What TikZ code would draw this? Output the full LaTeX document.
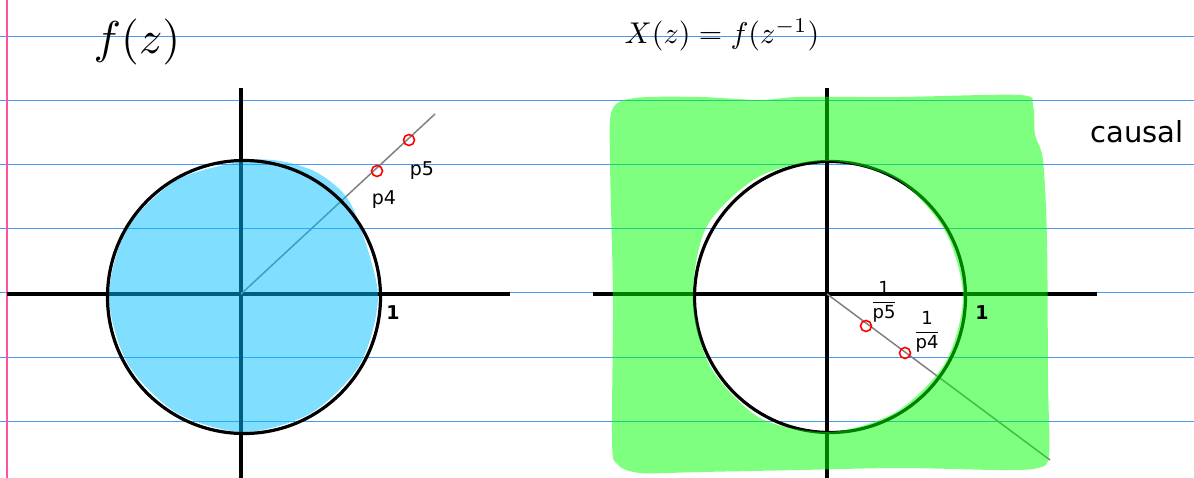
\documentclass[tikz,border=0pt]{standalone}
\usepackage{amsmath}
\usepackage{fontspec}
\setmainfont{DejaVu Sans}
\usepackage{tikz}

\definecolor{ruleblue}{RGB}{74,154,240}
\definecolor{marginpink}{RGB}{255,80,168}
\definecolor{skyfill}{RGB}{1,189,255}

\begin{document}
\begin{tikzpicture}[
          x=1pt, y=-1pt,
          ruled/.style={ruleblue, line width=1pt},
          axis/.style={black, line width=3.2pt},
          ring/.style={black, line width=3.2pt},
          ray/.style={gray, line width=1.5pt},
          pole/.style={circle, draw=red, line width=1.6pt, minimum size=11pt, inner sep=0pt},
          lbl/.style={font=\fontsize{19}{19}\selectfont, inner sep=0pt}
        ]
        \useasboundingbox (0,0) rectangle (1194,478);
        % ruled paper
        \foreach \yy in {37,101,165,229,293,357,421}
          \draw[ruled] (0,\yy) -- (1194,\yy);
        \draw[marginpink, line width=1.5pt] (7,0) -- (7,478);

        % left plane: f(z)
        \coordinate (O1) at (241,294);
        \coordinate (C1) at (244,297);
        \draw[axis] (7,294) -- (510,294);
        \draw[axis] (241,88) -- (241,478);
        \coordinate (r1) at (435,114);
        \draw[ray] (O1) -- (r1);
        \fill[skyfill, opacity=0.5] plot[smooth cycle] coordinates {
          (378,297) (361,229) (345,195) (316,172) (280,161) (244,161)
          (177,180) (127,229) (109,297) (128,364) (177,413) (244,432)
          (311,413) (360,364)};
        \draw[ring] (C1) circle[radius=136.5pt];
        \node[pole] (p4) at (377,171) {};
        \node[pole] (p5) at (409,140) {};
        \node[lbl] (p4l) at (384,200) {p4};
        \node[lbl] (p5l) at (422,171) {p5};
        \node[lbl, font=\fontsize{19}{19}\selectfont\bfseries] (one1) at (393,313) {1};
        \node[scale=4.6] (t1) at (137,42) {$f(z)$};

        % right plane: X(z) = f(z^-1)
        \coordinate (O2) at (827,294);
        \coordinate (C2) at (830,297);
        \draw[axis] (593,294) -- (1097,294);
        \draw[axis] (827,88) -- (827,478);
        \coordinate (r2) at (1050,460);
        \draw[ray] (O2) -- (r2);
        \draw[ring] (C2) circle[radius=135.5pt];
        \fill[green, opacity=0.5, even odd rule]
          plot[smooth cycle] coordinates {
            (612,110) (635,98) (700,97) (760,100) (800,97) (900,97) (1020,95)
            (1033,106) (1035,135) (1043,160) (1047,240) (1048,380) (1049,455)
            (1038,468) (1000,470) (900,468) (800,470) (700,472) (640,473)
            (617,464) (612,440) (613,300) (610,160)}
          plot[smooth cycle] coordinates {
            (963,297) (945,231) (898,180) (830,161) (760,176) (707,226)
            (693,297) (710,366) (760,418) (830,432) (896,412) (945,363)};
        \node[pole] (q5) at (866,326) {};
        \node[pole] (q4) at (905,353) {};
        \node[scale=1.8, inner sep=0pt] (q5l) at (884,302) {$\dfrac{\text{1}}{\text{p5}}$};
        \node[scale=1.8, inner sep=0pt] (q4l) at (927,332) {$\dfrac{\text{1}}{\text{p4}}$};
        \node[lbl, font=\fontsize{19}{19}\selectfont\bfseries] (one2) at (982,313) {1};
        \node[scale=3.0] (t2) at (722,35) {$X(z)=f(z^{-1})$};
        \node[font=\fontsize{29}{29}\selectfont] (causal) at (1137,132) {causal};
      \end{tikzpicture}
\end{document}
